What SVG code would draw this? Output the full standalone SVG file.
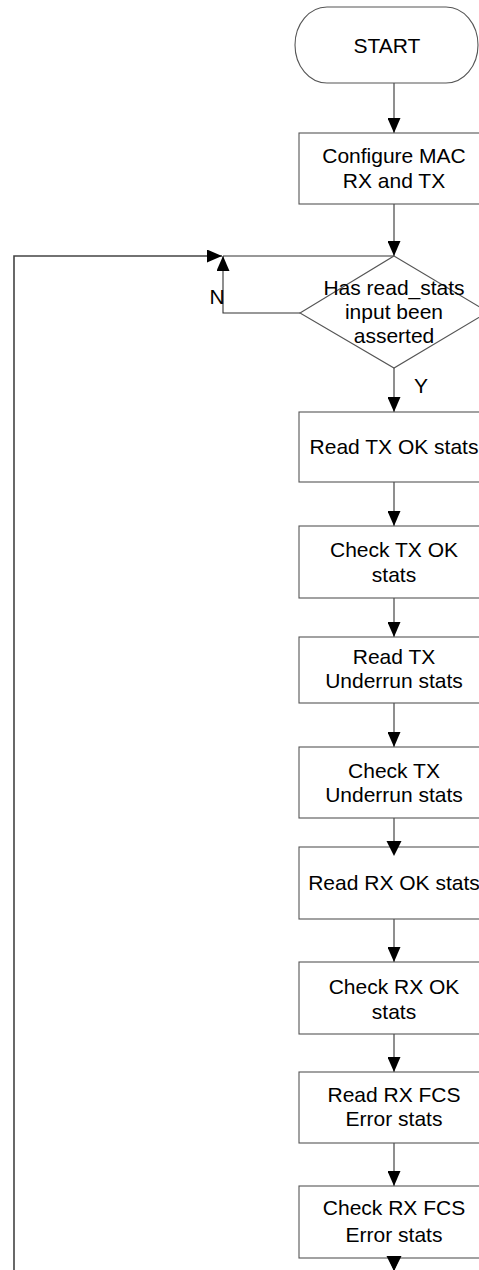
<svg xmlns="http://www.w3.org/2000/svg" width="479" height="1270" viewBox="0 0 479 1270">
<style>
.shape{fill:#fff;stroke:#555;stroke-width:1.1}
.lbl{font-family:"Liberation Sans",Arial,sans-serif;font-size:21px;fill:#000;text-anchor:middle}
.conn{fill:none;stroke:#333;stroke-width:1.1}
.loop{fill:none;stroke:#444;stroke-width:1.6}
</style>
<defs>
<marker id="ah" markerUnits="userSpaceOnUse" markerWidth="15" markerHeight="13" refX="15" refY="6.5" orient="auto">
<path d="M0,0 L15,6.5 L0,13 z" fill="#000"/>
</marker>
</defs>
<rect width="479" height="1270" fill="#fff"/>
<g id="connectors">
<path class="conn" d="M394,83 V133" marker-end="url(#ah)"/>
<path class="conn" d="M394,204 V256" marker-end="url(#ah)"/>
<path class="conn" d="M223,256 H394"/>
<path class="conn" d="M300,313 H223 V256" marker-end="url(#ah)"/>
<path class="loop" d="M14,1270 V256 H222" marker-end="url(#ah)"/>
<path class="conn" d="M394,368 V412" marker-end="url(#ah)"/>
<path class="conn" d="M394,482 V526" marker-end="url(#ah)"/>
<path class="conn" d="M394,598 V637" marker-end="url(#ah)"/>
<path class="conn" d="M394,703 V747" marker-end="url(#ah)"/>
<path class="conn" d="M394,818 V856" marker-end="url(#ah)"/>
<path class="conn" d="M394,919 V962" marker-end="url(#ah)"/>
<path class="conn" d="M394,1034 V1072" marker-end="url(#ah)"/>
<path class="conn" d="M394,1143 V1186" marker-end="url(#ah)"/>
<path class="conn" d="M394,1258 V1271" marker-end="url(#ah)"/>
<text class="lbl" x="217" y="304">N</text>
<text class="lbl" x="421" y="393">Y</text>
</g>
<g id="start">
<rect class="shape" x="295" y="7" width="183" height="76" rx="32" ry="38"/>
<text class="lbl" x="387" y="53">START</text>
</g>
<g id="configure">
<rect class="shape" x="299" y="133" width="190" height="71"/>
<text class="lbl" x="394" y="163">Configure MAC</text>
<text class="lbl" x="394" y="188">RX and TX</text>
</g>
<g id="decision">
<path class="shape" d="M394,256 L488,312 L394,368 L300,313 Z"/>
<text class="lbl" x="394" y="295">Has read_stats</text>
<text class="lbl" x="394" y="319">input been</text>
<text class="lbl" x="394" y="343">asserted</text>
</g>
<g id="read-tx-ok">
<rect class="shape" x="299" y="412" width="190" height="70"/>
<text class="lbl" x="394" y="454">Read TX OK stats</text>
</g>
<g id="check-tx-ok">
<rect class="shape" x="299" y="526" width="190" height="72"/>
<text class="lbl" x="394" y="557">Check TX OK</text>
<text class="lbl" x="394" y="582">stats</text>
</g>
<g id="read-tx-underrun">
<rect class="shape" x="299" y="637" width="190" height="66"/>
<text class="lbl" x="394" y="664">Read TX</text>
<text class="lbl" x="394" y="688">Underrun stats</text>
</g>
<g id="check-tx-underrun">
<rect class="shape" x="299" y="747" width="190" height="71"/>
<text class="lbl" x="394" y="778">Check TX</text>
<text class="lbl" x="394" y="802">Underrun stats</text>
</g>
<g id="read-rx-ok">
<rect class="shape" x="299" y="847" width="190" height="72"/>
<text class="lbl" x="394" y="890">Read RX OK stats</text>
</g>
<g id="check-rx-ok">
<rect class="shape" x="299" y="962" width="190" height="72"/>
<text class="lbl" x="394" y="994">Check RX OK</text>
<text class="lbl" x="394" y="1019">stats</text>
</g>
<g id="read-rx-fcs">
<rect class="shape" x="299" y="1072" width="190" height="71"/>
<text class="lbl" x="394" y="1102">Read RX FCS</text>
<text class="lbl" x="394" y="1126">Error stats</text>
</g>
<g id="check-rx-fcs">
<rect class="shape" x="299" y="1186" width="190" height="72"/>
<text class="lbl" x="394" y="1215">Check RX FCS</text>
<text class="lbl" x="394" y="1242">Error stats</text>
</g>
<g id="overdraw">
<path d="M394,856 l-7.5,-15 h15 z" fill="#000"/>
<path d="M394,1271 l-7.5,-15 h15 z" fill="#000"/>
</g>
</svg>
